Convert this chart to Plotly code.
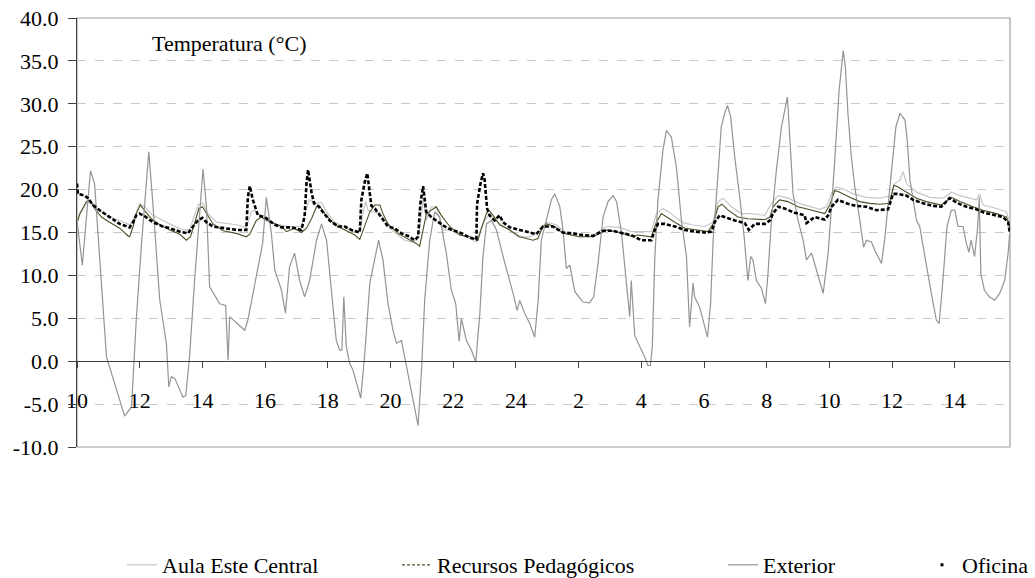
import plotly.graph_objects as go

# Eje temporal en días desde el inicio del registro (día 10)
dia_etiquetas = ["10", "12", "14", "16", "18", "20", "22", "24",
                 "2", "4", "6", "8", "10", "12", "14"]
dia_posiciones = [2 * i for i in range(len(dia_etiquetas))]

# Eje de temperatura
temp_marcas = [-10, -5, 0, 5, 10, 15, 20, 25, 30, 35, 40]
temp_etiquetas = ["-10.0", "-5.0", "0.0", "5.0", "10.0", "15.0",
                  "20.0", "25.0", "30.0", "35.0", "40.0"]

# Aula Este Central
aula_t = [0.03, 0.30, 0.46, 0.62, 0.94, 1.36, 1.68, 1.79, 2.00, 2.16, 2.42, 2.96, 3.38, 3.59,
          3.86, 4.02, 4.18, 4.45, 5.08, 5.40, 5.56, 5.67, 5.99, 6.31, 6.73, 7.16, 7.32, 7.40,
          7.53, 7.64, 7.80, 7.96, 8.22, 8.54, 8.86, 9.02, 9.12, 9.21, 9.28, 9.44, 9.66, 9.82,
          10.03, 10.24, 10.45, 10.67, 10.83, 10.93, 11.04, 11.14, 11.30, 11.46, 11.67, 11.89,
          12.21, 12.53, 12.74, 12.85, 13.00, 13.14, 13.32, 13.54, 13.80, 14.07, 14.44, 14.76,
          14.97, 15.29, 15.61, 16.03, 16.46, 16.89, 17.31, 17.68, 17.89, 18.32, 18.48, 18.69,
          18.96, 19.28, 19.60, 20.02, 20.29, 20.45, 20.61, 20.87, 21.19, 21.51, 21.94, 22.15,
          22.36, 22.68, 23.11, 23.43, 23.69, 23.90, 24.07, 24.22, 24.44, 24.76, 25.18, 25.61,
          25.98, 26.08, 26.25, 26.35, 26.46, 26.78, 27.20, 27.63, 27.89, 28.16, 28.69, 28.79,
          28.90, 29.33, 29.65, 29.75]
aula_temp = [16.8, 18.4, 18.6, 17.8, 17.0, 16.4, 15.9, 16.4, 18.4, 18.0, 17.0, 16.0, 15.3, 15.3,
             18.2, 18.4, 17.2, 16.2, 15.9, 15.6, 17.4, 17.6, 16.4, 16.0, 15.7, 15.7, 17.6, 18.8,
             18.6, 18.4, 18.5, 17.4, 16.2, 15.6, 15.1, 15.1, 17.2, 18.6, 17.6, 17.4, 17.3, 16.4,
             15.3, 14.7, 14.1, 13.9, 14.1, 15.3, 19.0, 16.4, 18.0, 18.0, 15.3, 15.3,
             14.7, 14.3, 13.9, 15.1, 16.4, 17.0, 16.5, 15.9, 15.3, 14.5, 14.5, 15.1,
             16.2, 15.9, 14.9, 14.5, 14.7, 15.7, 15.6, 15.1, 15.1, 15.1, 17.2, 17.8,
             17.2, 16.2, 15.9, 15.7, 16.2, 18.6, 19.0, 18.0, 17.2, 17.2, 17.0, 18.4,
             19.3, 19.0, 18.3, 18.0, 17.7, 18.0, 19.5, 20.3, 20.1, 19.5, 19.1, 19.0,
             19.3, 20.7, 21.1, 22.1, 20.7, 19.7, 19.1, 19.0, 19.7, 19.3, 18.8, 19.5,
             18.2, 17.8, 17.4, 16.0]

# Recursos Pedagógicos
recursos_t = [0.03, 0.09, 0.30, 0.41, 0.56, 0.78, 1.04, 1.36, 1.63, 1.68, 1.79, 1.89, 2.02, 2.16,
              2.37, 2.64, 2.96, 3.28, 3.49, 3.62, 3.75, 3.89, 4.00, 4.13, 4.34, 4.66, 5.08, 5.40,
              5.51, 5.72, 5.88, 6.20, 6.52, 6.68, 6.94, 7.16, 7.32, 7.48, 7.64, 7.74, 7.90, 8.22,
              8.54, 8.86, 9.02, 9.18, 9.34, 9.50, 9.66, 9.76, 9.92, 10.24, 10.56, 10.83, 10.93,
              11.04, 11.14, 11.30, 11.46, 11.62, 11.89, 12.21, 12.53, 12.79, 12.90, 13.06, 13.14,
              13.27, 13.48, 13.80, 14.12, 14.55, 14.70, 14.86, 14.97, 15.24, 15.50, 16.03, 16.46,
              16.89, 17.31, 17.74, 17.89, 18.32, 18.48, 18.64, 18.80, 19.07, 19.39, 19.70, 20.13,
              20.29, 20.45, 20.57, 20.77, 21.08, 21.40, 21.94, 22.10, 22.20, 22.41, 22.68, 23.00,
              23.32, 23.69, 23.85, 24.01, 24.17, 24.33, 24.65, 24.97, 25.29, 25.61, 25.92, 26.05,
              26.19, 26.46, 26.78, 27.09, 27.57, 27.89, 28.16, 28.58, 28.90, 29.33, 29.65, 29.75]
recursos_temp = [16.4, 17.2, 18.6, 18.8, 17.8, 16.8, 16.2, 15.5, 14.6, 14.5, 15.7, 17.2, 18.2, 17.6,
                 16.6, 15.9, 15.3, 14.8, 14.1, 14.5, 16.0, 17.8, 18.0, 17.2, 16.0, 15.2, 14.9, 14.5,
                 14.8, 16.4, 16.8, 16.2, 15.7, 15.1, 15.5, 15.0, 15.5, 16.6, 18.0, 18.1, 17.2, 15.9,
                 15.3, 14.7, 14.2, 15.7, 17.4, 18.2, 18.2, 17.2, 16.0, 14.9, 14.3, 13.7, 13.4,
                 15.3, 17.1, 17.6, 18.0, 17.0, 15.7, 14.7, 14.5, 14.1, 15.5, 17.2, 17.6,
                 17.0, 15.9, 15.3, 14.5, 14.1, 14.3, 15.7, 16.0, 15.7, 14.9, 14.5, 14.5,
                 15.3, 15.0, 14.5, 14.7, 14.5, 16.2, 17.2, 16.8, 16.2, 15.5, 15.3, 15.1,
                 16.0, 18.0, 18.3, 17.6, 16.8, 16.6, 16.5, 16.8, 18.0, 18.8, 18.6, 18.0,
                 17.7, 17.4, 17.2, 18.2, 19.9, 19.7, 19.1, 18.6, 18.4, 18.3, 18.4, 20.5,
                 20.3, 19.7, 19.0, 18.6, 18.2, 19.1, 18.6, 18.0, 17.6, 17.2, 16.8, 15.5]

# Exterior
exterior_t = [0.00, 0.17, 0.43, 0.56, 0.94, 1.52, 1.74, 1.89, 2.05, 2.29, 2.42, 2.64, 2.85, 2.93,
              3.01, 3.12, 3.38, 3.47, 3.59, 3.75, 4.02, 4.13, 4.23, 4.55, 4.74, 4.82, 4.87, 5.19,
              5.35, 5.45, 5.60, 5.92, 6.04, 6.20, 6.31, 6.52, 6.65, 6.78, 6.94, 7.10, 7.26, 7.42,
              7.64, 7.80, 7.96, 8.11, 8.27, 8.38, 8.45, 8.51, 8.59, 8.70, 8.80, 9.05, 9.18, 9.34,
              9.50, 9.62, 9.76, 9.92, 10.08, 10.19, 10.35, 10.51, 10.67, 10.88, 10.99, 11.09,
              11.25, 11.41, 11.57, 11.78, 11.94, 12.08, 12.19, 12.26, 12.42, 12.58, 12.72, 12.85,
              12.95, 13.06, 13.22, 13.38, 13.59, 13.75, 13.91, 14.04, 14.12, 14.28, 14.44, 14.60,
              14.71, 14.81, 14.97, 15.13, 15.24, 15.40, 15.50, 15.61, 15.72, 15.88, 16.14, 16.35,
              16.48, 16.62, 16.78, 16.94, 17.10, 17.21, 17.37, 17.52, 17.63, 17.68, 17.79, 17.95,
              18.11, 18.21, 18.29, 18.35, 18.43, 18.53, 18.69, 18.80, 18.96, 19.12, 19.28, 19.44,
              19.54, 19.65, 19.70, 19.86, 19.99, 20.11, 20.21, 20.29, 20.45, 20.55, 20.66, 20.75,
              20.85, 20.98, 21.14, 21.28, 21.40, 21.49, 21.56, 21.67, 21.83, 21.96, 22.04, 22.15,
              22.31, 22.47, 22.66, 22.73, 22.84, 23.00, 23.16, 23.27, 23.43, 23.59, 23.80, 23.96,
              24.07, 24.17, 24.31, 24.44, 24.51, 24.59, 24.70, 24.81, 24.97, 25.09, 25.18, 25.34,
              25.45, 25.66, 25.76, 25.87, 25.98, 26.12, 26.25, 26.41, 26.48, 26.57, 26.67, 26.78,
              26.88, 26.99, 27.09, 27.25, 27.41, 27.50, 27.62, 27.75, 27.89, 28.00, 28.10, 28.26,
              28.37, 28.45, 28.52, 28.63, 28.73, 28.78, 28.83, 28.94, 29.10, 29.27, 29.43, 29.59,
              29.70, 29.75]
exterior_temp = [16.4, 11.2, 22.2, 20.7, 0.5, -6.4, -5.3, 4.8, 13.3, 24.4, 18.4, 7.1, 2.1, -3.0,
                 -1.8, -2.0, -4.2, -4.0, 0.5, 9.4, 22.4, 18.0, 8.7, 6.7, 6.5, 0.1, 5.2, 4.2,
                 3.6, 4.8, 7.5, 13.7, 19.1, 14.9, 10.6, 8.3, 5.6, 11.0, 12.6, 9.4, 7.5, 9.4,
                 14.1, 16.0, 14.1, 8.3, 2.4, 1.3, 1.3, 7.5, 1.7, -0.3, -1.0, -4.3, 0.9, 9.1,
                 12.2, 14.1, 11.8, 6.7, 3.6, 2.1, 2.4, -0.7, -3.8, -7.5, -1.0, 7.1,
                 14.1, 17.4, 16.8, 12.6, 8.3, 6.7, 2.3, 5.0, 2.4, 1.3, -0.1, 5.6,
                 12.2, 16.0, 16.4, 15.3, 12.2, 10.2, 7.9, 5.9, 7.1, 5.6, 4.4, 2.8,
                 7.1, 14.1, 16.6, 18.8, 19.5, 18.0, 15.3, 10.8, 11.2, 8.1, 6.9, 6.8,
                 7.5, 11.4, 16.8, 18.6, 19.3, 18.6, 14.9, 9.4, 5.2, 9.4, 3.0, 1.7,
                 0.5, -0.5, -0.5, 1.7, 12.0, 18.8, 24.6, 26.9, 26.1, 22.6, 16.4, 12.2,
                 4.0, 9.1, 7.5, 6.3, 4.4, 2.8, 6.7, 14.1, 21.9, 27.3, 28.9, 29.8,
                 28.5, 23.8, 19.1, 14.5, 9.4, 12.2, 11.8, 9.4, 8.5, 6.7, 10.2, 16.4,
                 22.3, 27.3, 30.8, 25.8, 19.5, 16.4, 14.1, 11.8, 12.6, 10.6, 7.9, 12.6,
                 18.0, 23.4, 31.6, 36.2, 34.3, 28.9, 23.8, 20.3, 16.4, 13.3, 14.1, 13.9,
                 12.9, 11.4, 14.1, 18.0, 22.6, 27.3, 28.9, 28.1, 25.8, 21.1, 18.8, 16.4,
                 15.7, 13.3, 11.0, 7.9, 4.8, 4.4, 9.4, 15.7, 17.6, 17.6, 15.7, 15.7,
                 13.7, 12.7, 14.1, 12.2, 15.7, 19.1, 10.2, 8.3, 7.5, 7.1, 7.9, 9.4,
                 12.6, 14.9]

# Oficina
oficina_t = [0.00, 0.03, 0.25, 0.35, 0.51, 0.72, 1.04, 1.36, 1.68, 1.79, 1.89, 2.00, 2.16, 2.42,
             2.74, 2.96, 3.28, 3.54, 3.70, 3.86, 4.00, 4.13, 4.34, 4.77, 5.08, 5.40, 5.45, 5.51,
             5.61, 5.77, 5.99, 6.09, 6.31, 6.52, 6.84, 7.16, 7.26, 7.32, 7.37, 7.48, 7.56, 7.69,
             7.85, 8.06, 8.33, 8.54, 8.75, 9.02, 9.07, 9.18, 9.26, 9.34, 9.39, 9.50, 9.71, 9.92,
             10.13, 10.35, 10.56, 10.77, 10.88, 10.95, 11.04, 11.14, 11.30, 11.52, 11.73, 11.89,
             12.21, 12.53, 12.74, 12.76, 12.87, 12.95, 13.00, 13.08, 13.16, 13.32, 13.48, 13.59,
             13.80, 14.12, 14.44, 14.65, 14.86, 15.18, 15.50, 15.82, 16.14, 16.46, 16.78, 17.10,
             17.42, 17.68, 18.00, 18.32, 18.43, 18.53, 18.75, 19.07, 19.39, 19.70, 20.02, 20.24,
             20.34, 20.50, 20.66, 20.98, 21.30, 21.43, 21.62, 21.94, 22.10, 22.20, 22.36, 22.57,
             22.89, 23.21, 23.27, 23.53, 23.85, 23.96, 24.07, 24.27, 24.54, 24.86, 25.18, 25.50,
             25.87, 26.03, 26.19, 26.46, 26.67, 26.99, 27.31, 27.57, 27.83, 28.10, 28.37, 28.69,
             28.94, 29.26, 29.54, 29.70, 29.75]
oficina_temp = [20.7, 19.5, 19.3, 19.0, 18.2, 17.6, 16.8, 16.0, 15.6, 16.2, 17.0, 17.2, 16.9, 16.2,
                15.7, 15.5, 15.1, 14.9, 15.7, 16.4, 16.7, 16.2, 15.7, 15.5, 15.3, 15.3, 19.1, 20.4,
                18.8, 17.0, 16.8, 16.5, 15.9, 15.6, 15.6, 15.3, 16.9, 20.7, 22.3, 19.7, 18.4, 18.1,
                17.4, 16.4, 15.7, 15.7, 15.3, 15.0, 18.8, 20.9, 21.9, 19.9, 18.1, 17.8, 16.8, 15.7,
                15.5, 14.9, 14.6, 14.1, 14.5, 18.3, 20.4, 17.4, 16.8, 16.2, 15.7, 15.4,
                15.0, 14.4, 14.2, 18.3, 20.7, 21.9, 21.2, 17.8, 17.0, 16.4, 17.0, 16.2,
                15.6, 15.3, 15.0, 14.8, 15.7, 15.7, 15.0, 14.9, 14.7, 14.6, 15.2, 15.2,
                14.9, 14.7, 14.1, 14.1, 15.3, 16.0, 16.0, 15.7, 15.3, 15.1, 15.0, 15.1,
                16.2, 17.0, 16.8, 16.4, 16.1, 15.3, 16.0, 16.0, 16.4, 17.2, 18.0, 17.8,
                17.3, 17.0, 16.1, 16.8, 16.5, 17.0, 18.0, 18.8, 18.4, 18.1, 18.0, 17.6,
                17.7, 19.5, 19.5, 19.3, 18.8, 18.4, 18.1, 18.0, 19.0, 18.4, 18.0, 17.7,
                17.3, 17.0, 16.8, 16.2, 15.1]

FUENTE = "Liberation Serif"
C_AULA = "#c6c6c6"
C_RECURSOS = "#4f4f28"
C_EXTERIOR = "#949494"
C_OFICINA = "#000000"

fig = go.Figure()

fig.add_trace(go.Scatter(x=aula_t, y=aula_temp, mode="lines", name="Aula Este Central",
                         line=dict(color=C_AULA, width=1.2), legend="legend"))
fig.add_trace(go.Scatter(x=recursos_t, y=recursos_temp, mode="lines", showlegend=False,
                         legendgroup="rec", line=dict(color=C_RECURSOS, width=1.1)))
fig.add_trace(go.Scatter(x=exterior_t, y=exterior_temp, mode="lines", name="Exterior",
                         line=dict(color=C_EXTERIOR, width=1.2), legend="legend3"))
fig.add_trace(go.Scatter(x=oficina_t, y=oficina_temp, mode="lines", showlegend=False,
                         legendgroup="ofi", line=dict(color=C_OFICINA, width=2.6, dash="4px,2px")))

# entradas de leyenda con el símbolo de cada serie
fig.add_trace(go.Scatter(x=[None], y=[None], mode="lines", name="Recursos Pedagógicos",
                         legendgroup="rec", legend="legend2",
                         line=dict(color=C_RECURSOS, width=1.2, dash="3px,2px")))
fig.add_trace(go.Scatter(x=[None], y=[None], mode="markers", name="Oficina",
                         legendgroup="ofi", legend="legend4",
                         marker=dict(color=C_OFICINA, size=3, symbol="square")))

W, H = 1035, 578
ML, MR, MT, MB = 77, 25, 18, 131
PW = W - ML - MR
PH = H - MT - MB
FS = 22

leg_y = 1 - 565 / H
leg_common = dict(orientation="h", yanchor="middle", y=leg_y, xanchor="left",
                  xref="container", yref="container",
                  bgcolor="rgba(0,0,0,0)", font=dict(family=FUENTE, size=FS, color="black"))

fig.update_layout(
    width=W, height=H,
    margin=dict(l=ML, r=MR, t=MT, b=MB, autoexpand=False),
    paper_bgcolor="white", plot_bgcolor="white",
    font=dict(family=FUENTE, size=FS, color="black"),
    legend=dict(x=122 / W, **leg_common),
    legend2=dict(x=397 / W, **leg_common),
    legend3=dict(x=723 / W, **leg_common),
    legend4=dict(x=922 / W, **leg_common),
    xaxis=dict(
        range=[0, 29.76], anchor="free", position=0.2,
        tickmode="array", tickvals=dia_posiciones, ticktext=dia_etiquetas,
        showline=True, linecolor="#404040", linewidth=1,
        ticks="outside", ticklen=6, tickcolor="#404040",
        ticklabelstandoff=13,
        showgrid=False, zeroline=False,
        tickfont=dict(family=FUENTE, size=FS, color="black"),
    ),
    yaxis=dict(
        range=[-10, 40], tickmode="array", tickvals=temp_marcas, ticktext=temp_etiquetas,
        showline=True, linecolor="#404040", linewidth=1,
        ticks="outside", ticklen=8, tickcolor="#404040",
        ticklabelstandoff=5,
        showgrid=True, gridcolor="#c8c8c8", griddash="dash", gridwidth=1,
        zeroline=False,
        tickfont=dict(family=FUENTE, size=FS, color="black"),
    ),
    shapes=[dict(type="rect", xref="paper", yref="paper", x0=0, x1=1, y0=0, y1=1,
                 line=dict(color="#a0a0a0", width=1.2), layer="below")],
    annotations=[dict(text="Temperatura (°C)", xref="paper", yref="paper",
                      x=(150 - ML) / PW, y=1 - 26 / PH, xanchor="left", yanchor="middle",
                      showarrow=False, font=dict(family=FUENTE, size=FS, color="black"))],
)

fig.write_html("out.html")
